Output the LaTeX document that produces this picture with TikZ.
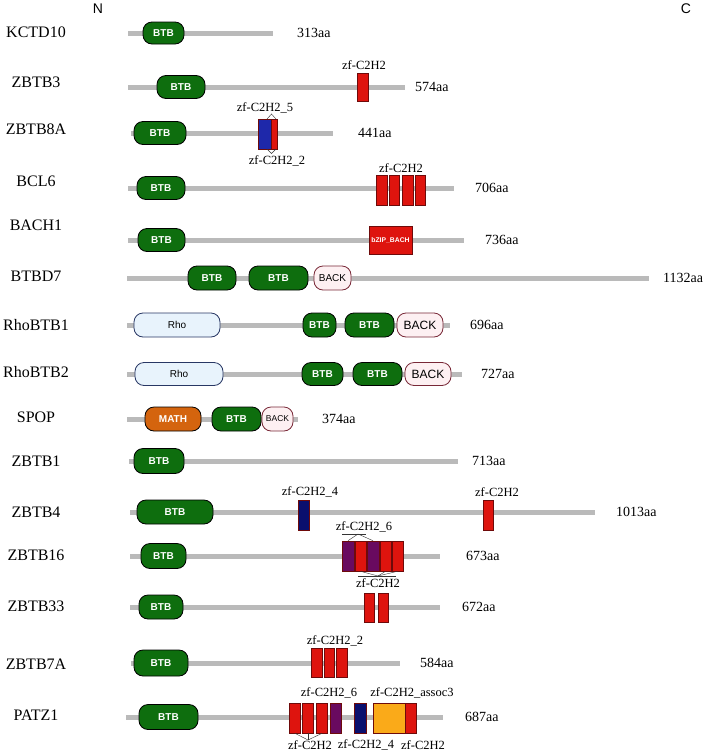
\documentclass[tikz,border=0pt]{standalone}
\usepackage{fontspec}
\setmainfont{Liberation Serif}
\newfontfamily\domfont{Liberation Sans}
\usepackage{tikz}
\usetikzlibrary{positioning,calc}
\definecolor{bargray}{RGB}{186,186,186}
\definecolor{btbgreen}{RGB}{14,110,14}
\definecolor{backfill}{RGB}{253,240,242}
\definecolor{backdraw}{RGB}{120,40,55}
\definecolor{rhofill}{RGB}{232,243,252}
\definecolor{rhodraw}{RGB}{40,55,100}
\definecolor{mathorange}{RGB}{212,100,14}
\definecolor{zfred}{RGB}{222,20,14}
\definecolor{zfdraw}{RGB}{110,10,10}
\definecolor{zfpurple}{RGB}{105,10,95}
\definecolor{zfblue}{RGB}{30,40,170}
\definecolor{zfnavy}{RGB}{10,15,110}
\definecolor{assocorange}{RGB}{250,170,25}

\begin{document}
\begin{tikzpicture}[x=1pt,y=-1pt,
    pname/.style={font=\fontsize{16}{18}\selectfont,inner sep=0pt},
    plen/.style={font=\fontsize{14}{16}\selectfont,anchor=west,inner sep=0pt},
    zflbl/.style={font=\fontsize{12.5}{14}\selectfont,inner sep=0pt},
    term/.style={font=\domfont\fontsize{14}{16}\selectfont,inner sep=0pt},
    bar/.style={draw=bargray,line width=5pt},
    dom/.style={draw=black,line width=0.8pt,rounded corners=9pt,inner sep=0pt,minimum height=23pt,font=\domfont\fontsize{10}{12}\selectfont},
    btb/.style={dom,fill=btbgreen,text=white,font=\domfont\bfseries\fontsize{10}{12}\selectfont},
    back/.style={dom,fill=backfill,draw=backdraw,text=black},
    rho/.style={dom,fill=rhofill,draw=rhodraw,text=black},
    mathdom/.style={dom,fill=mathorange,text=white,font=\domfont\bfseries\fontsize{10}{12}\selectfont},
    zf/.style={draw=zfdraw,line width=0.6pt,fill=zfred,inner sep=0pt,minimum width=10.5pt,minimum height=30pt},
    wd/.style={minimum width=#1pt},
    pointer/.style={draw=black!80,line width=0.4pt}]
    \useasboundingbox (0,0) rectangle (708,753);
    % backbones
    \foreach \y/\a/\b in {33/128/273,87/128/405,133/131/333,188/128/454,240/128/464,278/127/649,325/127/450,374/127/462,419/127/298,461/129/458,512/130/595,556/130/440,607/130/440,663/131/400,717/126/443}{\draw[bar] (\a,\y)--(\b,\y);}
    \node[term] (nterm) at (98,9) {N};
    \node[term] (cterm) at (686,9) {C};
    \foreach \n/\y in {KCTD10/32,ZBTB3/82,ZBTB8A/129,BCL6/181,BACH1/225,BTBD7/276,RhoBTB1/325,RhoBTB2/372,SPOP/417,ZBTB1/461,ZBTB4/512,ZBTB16/555,ZBTB33/606,ZBTB7A/664,PATZ1/715}{\node[pname] (name-\n) at (36,\y) {\n};}
    \foreach \n/\x/\y in {313/297/33,574/415/87,441/358/133,706/475/188,736/485/240,1132/663/278,696/470/325,727/481/374,374/322/419,713/472/461,1013/616/512,673/466/556,672/462/607,584/420/663,687/465/717}{\node[plen] (len\n) at (\x,\y) {\n aa};}
    % KCTD10
    \node[btb,wd=41,minimum height=22pt] (k10btb) at (163.5,33) {BTB};
    % ZBTB3
    \node[btb,wd=48] (z3btb) at (181,87) {BTB};
    \node[zf,wd=11,minimum height=28pt] (z3zf) at (362.5,87) {};
    \node[zflbl] (z3lbl) at (364,65) {zf-C2H2};
    % ZBTB8A
    \node[btb,wd=52] (z8btb) at (160,133) {BTB};
    \node[zf,fill=zfblue,wd=13] (z8a) at (264.5,134) {};
    \node[zf,wd=6] (z8b) at (274,134) {};
    \node[zflbl] (z8lbla) at (265,108) {zf-C2H2\_5};
    \node[zflbl] (z8lblb) at (277,161) {zf-C2H2\_2};
    \draw[pointer] (267,119) -- (271.5,114) -- (276,119);
    \draw[pointer] (267,149) -- (271.5,153.5) -- (276,149);
    % BCL6
    \node[btb,wd=48] (b6btb) at (161,188) {BTB};
    \foreach \x [count=\i] in {382,394.5,408,420.5}{\node[zf] (b6zf\i) at (\x,190) {};}
    \node[zflbl] (b6lbl) at (401,168) {zf-C2H2};
    % BACH1
    \node[btb,wd=47] (bh1btb) at (161.5,240) {BTB};
    \node[zf,wd=43,minimum height=28pt,text=white,font=\domfont\bfseries\fontsize{6.8}{8}\selectfont] (bh1zip) at (390.5,240) {bZIP\_BACH};
    % BTBD7
    \node[btb,wd=48,minimum height=24pt] (bd7btba) at (212,278) {BTB};
    \node[btb,wd=59,minimum height=24pt] (bd7btbb) at (278.5,278) {BTB};
    \node[back,wd=37,minimum height=24pt] (bd7back) at (332.5,278) {BACK};
    % RhoBTB1
    \node[rho,wd=86,minimum height=24pt] (r1rho) at (177,325) {Rho};
    \node[btb,wd=33,minimum height=24pt] (r1btba) at (319.5,325) {BTB};
    \node[btb,wd=49,minimum height=24pt] (r1btbb) at (369.5,325) {BTB};
    \node[back,wd=46,minimum height=24pt,font=\domfont\fontsize{12}{14}\selectfont] (r1back) at (420,325) {BACK};
    % RhoBTB2
    \node[rho,wd=88] (r2rho) at (179,374) {Rho};
    \node[btb,wd=41] (r2btba) at (322.5,374) {BTB};
    \node[btb,wd=49] (r2btbb) at (377.5,374) {BTB};
    \node[back,wd=46,font=\domfont\fontsize{12}{14}\selectfont] (r2back) at (428,374) {BACK};
    % SPOP
    \node[mathdom,wd=56,minimum height=24pt] (spmath) at (173,419) {MATH};
    \node[btb,wd=49,minimum height=24pt] (spbtb) at (236.5,419) {BTB};
    \node[back,wd=31,minimum height=24pt,font=\domfont\fontsize{8.5}{10}\selectfont] (spback) at (277.5,419) {BACK};
    % ZBTB1
    \node[btb,wd=50,minimum height=25pt] (z1btb) at (159,461) {BTB};
    % ZBTB4
    \node[btb,wd=76,minimum height=24pt] (z4btb) at (175,512) {BTB};
    \node[zf,fill=zfnavy,wd=11] (z4a) at (303.5,515) {};
    \node[zf,wd=10] (z4b) at (488,515) {};
    \node[zflbl] (z4lbla) at (310,492) {zf-C2H2\_4};
    \node[zflbl] (z4lblb) at (497,492) {zf-C2H2};
    % ZBTB16
    \node[btb,wd=45,minimum height=25pt] (z16btb) at (163.5,556) {BTB};
    \node[zf,fill=zfpurple,wd=12] (z16a) at (348,556) {};
    \node[zf,wd=11] (z16b) at (360.5,556) {};
    \node[zf,fill=zfpurple,wd=12] (z16c) at (373,556) {};
    \node[zf,wd=11] (z16d) at (385.5,556) {};
    \node[zf,wd=11] (z16e) at (397.5,556) {};
    \node[zflbl] (z16lbla) at (364,527) {zf-C2H2\_6};
    \node[zflbl] (z16lblb) at (378,583) {zf-C2H2};
    \coordinate (z16up) at (358,534);
    \coordinate (z16dn) at (378,576);
    \draw[pointer] (342,534) -- (366,534);
    \draw[pointer] (z16a.north) -- (z16up) -- (z16c.north);
    \draw[pointer] (358,576) -- (396,576);
    \foreach \b in {z16b,z16d,z16e}{\draw[pointer] (\b.south) -- (z16dn);}
    % ZBTB33
    \node[btb,wd=44,minimum height=24pt] (z33btb) at (161,607) {BTB};
    \node[zf,wd=10,minimum height=29pt] (z33a) at (369.5,608) {};
    \node[zf,wd=10,minimum height=29pt] (z33b) at (383,608) {};
    % ZBTB7A
    \node[btb,wd=54,minimum height=26pt] (z7btb) at (161,663) {BTB};
    \foreach \x [count=\i] in {317,329.5,342}{\node[zf,minimum height=29pt] (z7zf\i) at (\x,662.5) {};}
    \node[zflbl] (z7lbl) at (335,641) {zf-C2H2\_2};
    % PATZ1
    \node[btb,wd=59,minimum height=25pt] (pzbtb) at (168.5,717) {BTB};
    \foreach \x [count=\i] in {295,308,322}{\node[zf] (pzzf\i) at (\x,718) {};}
    \node[zf,fill=zfpurple,wd=11] (pzpur) at (335.5,718) {};
    \node[zf,fill=zfnavy,wd=12] (pznavy) at (360,718) {};
    \node[zf,fill=assocorange,wd=32] (pzassoc) at (389,718) {};
    \node[zf,wd=11] (pzlast) at (410.5,718) {};
    \node[zflbl] (pzlbla) at (329,693) {zf-C2H2\_6};
    \node[zflbl] (pzlblb) at (412,693) {zf-C2H2\_assoc3};
    \node[zflbl] (pzlblc) at (310,745) {zf-C2H2};
    \node[zflbl] (pzlbld) at (366,745) {zf-C2H2\_4};
    \node[zflbl] (pzlble) at (423,745) {zf-C2H2};
    \coordinate (pzdn) at (308,740);
    \foreach \b in {pzzf1,pzzf2,pzzf3}{\draw[pointer] (\b.south) -- (pzdn);}
  \end{tikzpicture}
\end{document}
